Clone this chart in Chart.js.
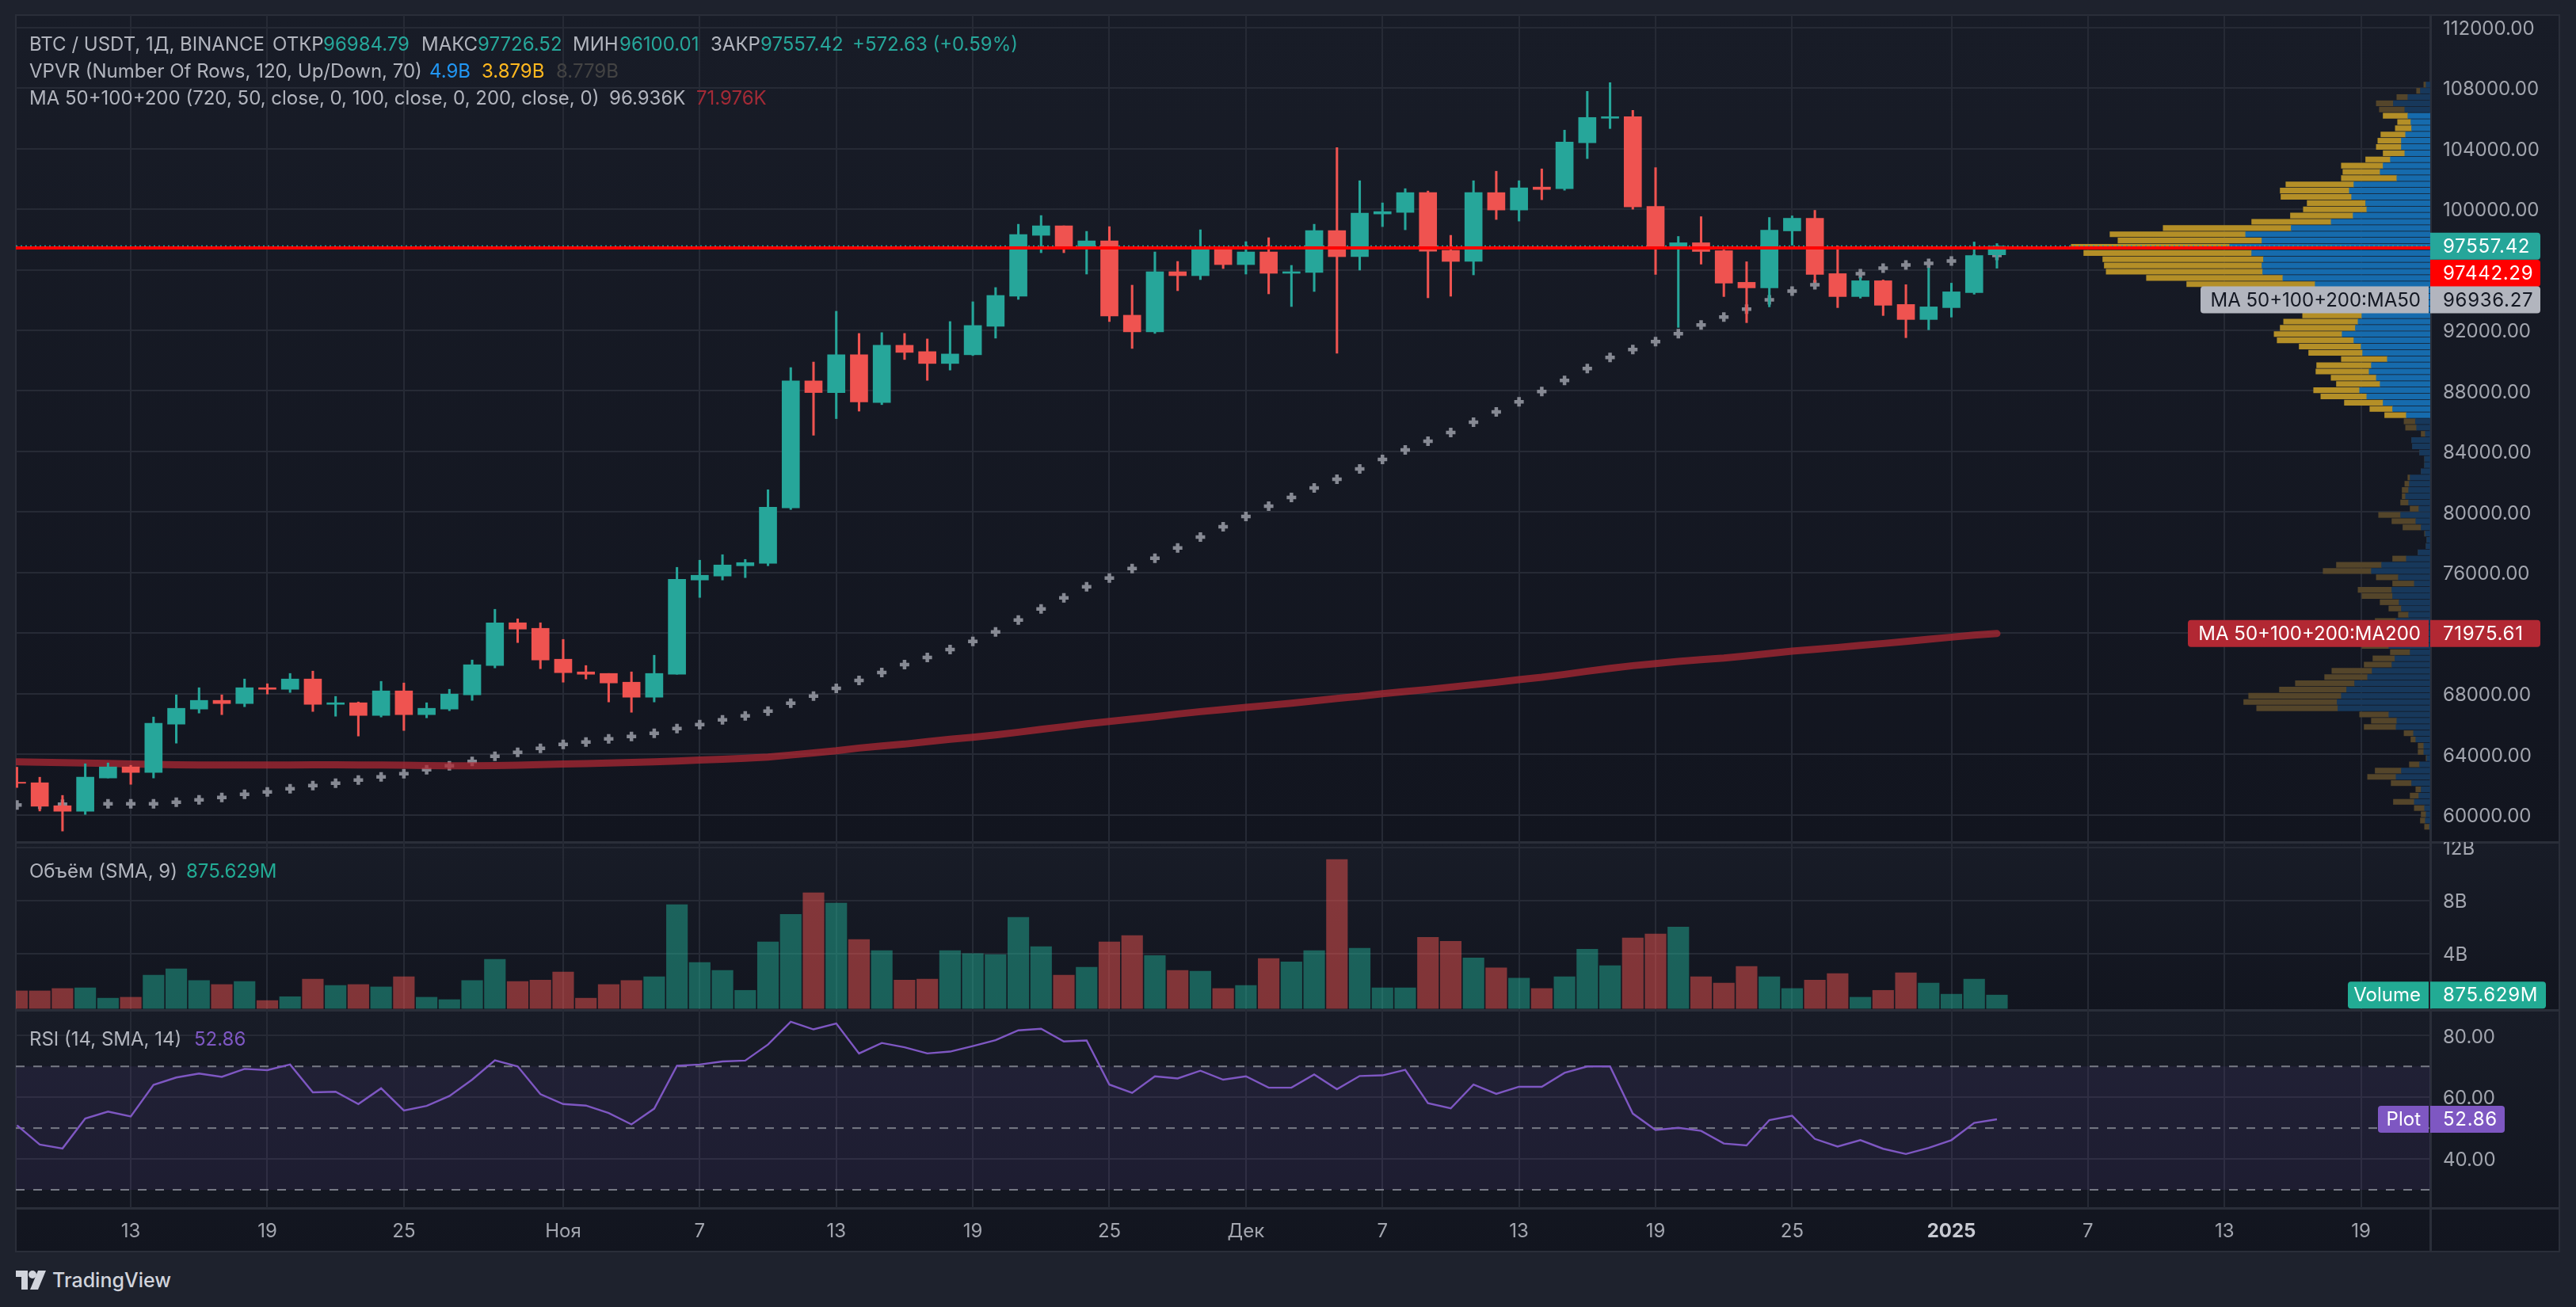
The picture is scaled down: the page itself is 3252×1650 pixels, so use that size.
<!DOCTYPE html>
<html>
<head>
<meta charset="utf-8">
<title>BTC / USDT</title>
<script src="https://cdn.jsdelivr.net/npm/chart.js@4"></script>
<style>
html, body { margin: 0; padding: 0; width: 3252px; height: 1650px; overflow: hidden; background: #1e222d; }
body { position: relative; font-family: Inter, sans-serif; font-size: 24px; color: #b2b5be; }
.bg, .sep, canvas, .txt, svg { position: absolute; }
.bg { left: 20px; width: 3211px; background: linear-gradient(#181c27, #12151f); }
.sep { background: #2a2e39; }
.txt { white-space: nowrap; line-height: 30px; }
.up { color: #26a69a; }
</style>
</head>
<body>
<div class="bg" style="top:19px;height:1044px"></div>
<div class="bg" style="top:1063px;height:212px"></div>
<div class="bg" style="top:1275px;height:305px"></div>
<div class="sep" style="left:19px;top:18px;width:3213px;height:2px"></div>
<div class="sep" style="left:19px;top:1579px;width:3213px;height:2px"></div>
<div class="sep" style="left:19px;top:18px;width:2px;height:1563px"></div>
<div class="sep" style="left:3230px;top:18px;width:2px;height:1563px"></div>
<div class="sep" style="left:3067px;top:18px;width:3px;height:1563px"></div>
<div class="sep" style="left:19px;top:1062px;width:3213px;height:3px"></div>
<div class="sep" style="left:19px;top:1274px;width:3213px;height:3px"></div>
<div class="sep" style="left:19px;top:1524px;width:3213px;height:3px"></div>
<canvas id="main" width="3211" height="1044" style="left:20px;top:19px"></canvas>
<canvas id="volume" width="3211" height="212" style="left:20px;top:1063px"></canvas>
<canvas id="rsi" width="3211" height="305" style="left:20px;top:1275px"></canvas>

<span class="txt" style="left:37px;top:41px">BTC / USDT, 1Д, BINANCE</span>
<span class="txt" style="left:344px;top:41px">ОТКР</span><span class="txt up" style="left:408px;top:41px">96984.79</span>
<span class="txt" style="left:532px;top:41px">МАКС</span><span class="txt up" style="left:603px;top:41px">97726.52</span>
<span class="txt" style="left:723px;top:41px">МИН</span><span class="txt up" style="left:782px;top:41px">96100.01</span>
<span class="txt" style="left:897px;top:41px">ЗАКР</span><span class="txt up" style="left:960px;top:41px">97557.42</span>
<span class="txt up" style="left:1076px;top:41px">+572.63 (+0.59%)</span>
<span class="txt" style="left:37px;top:75px">VPVR (Number Of Rows, 120, Up/Down, 70)</span>
<span class="txt" style="left:542px;top:75px;color:#2196f3">4.9B</span>
<span class="txt" style="left:608px;top:75px;color:#ffb81f">3.879B</span>
<span class="txt" style="left:702px;top:75px;color:#434343">8.779B</span>
<span class="txt" style="left:37px;top:109px">MA 50+100+200 (720, 50, close, 0, 100, close, 0, 200, close, 0)</span>
<span class="txt" style="left:769px;top:109px">96.936K</span>
<span class="txt" style="left:879px;top:109px;color:#a32a36">71.976K</span>
<span class="txt" style="left:37px;top:1085px">Объём (SMA, 9)</span>
<span class="txt" style="left:235px;top:1085px;color:#22ab94">875.629M</span>
<span class="txt" style="left:37px;top:1297px">RSI (14, SMA, 14)</span>
<span class="txt" style="left:245px;top:1297px;color:#7e57c2">52.86</span>

<svg style="left:20px;top:1603px" width="38" height="26" viewBox="0 0 38 26" fill="#d1d4dc">
<path d="M0 1h15v24H7V9H0z"/><circle cx="21" cy="6" r="5"/><path d="M28 1h10l-10 24H18z"/>
</svg>
<span class="txt" style="left:66px;top:1601px;font-size:25px;font-weight:500;color:#d1d4dc">TradingView</span>

<script>
// day numbers, 0 = 13 Oct 2024
const days = [-5,-4,-3,-2,-1,0,1,2,3,4,5,6,7,8,9,10,11,12,13,14,15,16,17,18,19,20,21,22,23,24,25,26,27,28,29,30,31,32,33,34,35,36,37,38,39,40,41,42,43,44,45,46,47,48,49,50,51,52,53,54,55,56,57,58,59,60,61,62,63,64,65,66,67,68,69,70,71,72,73,74,75,76,77,78,79,80,81,82];

const opens = [62161,62126,60610,60244,62440,63172,62806,65996,66990,67565,67355,68401,68297,68977,67303,67408,66571,68192,66623,66990,67930,69865,72689,72323,70284,69447,69342,68767,67774,69290,75513,75774,76454,76611,80271,88660,87890,90382,87234,91012,90594,89811,90385,92265,94250,98272,98899,97558,97906,92997,91900,95869,95608,97332,96339,97175,95765,95817,98585,96862,99682,99786,101092,97279,96548,101092,99943,101458,101354,104383,106002,106106,100183,97484,97780,97258,95169,94803,98564,99399,95743,94228,95273,93706,92714,93497,94490,96984.79];
const highs = [63155,62492,61290,63381,63434,63277,66467,67930,68401,67930,68977,68663,69342,69499,67826,67460,68820,68715,67408,68297,70232,73578,72950,72689,71591,69865,69342,69447,70545,76349,76820,77186,76872,81474,89539,89905,93258,91792,91848,91795,91430,92579,93885,94825,99003,99578,98899,98533,98846,94981,97175,96548,98638,97419,97854,98115,96287,99003,104069,101876,100413,101354,101197,98272,101876,102503,101876,102659,105218,107778,108352,106524,102742,98198,99504,97310,96527,99451,99556,99922,97571,95482,95325,95012,96109,95116,97832,97726.52];
const lows = [61813,60261,58937,60035,62440,62022,62440,64741,66728,66623,67146,67983,68088,66833,66519,65211,66467,65578,66414,66885,67565,69708,71382,69656,68767,68977,67460,66780,67460,69290,74363,75513,75670,76454,80167,85072,86168,86663,87094,90072,88696,89375,90333,91482,94041,97123,97123,95713,92579,90803,91795,94616,95347,96078,95713,94407,93571,94564,90490,95974,98846,98638,94146,94250,95660,99317,99212,100621,101249,103338,105322,99996,95691,92191,96370,94228,92505,93549,97623,95169,93497,94124,92975,91513,92035,92871,94385,96100.01];
const closes = [62092,60575,60244,62492,63172,62806,66048,67042,67565,67355,68401,68297,68977,67303,67408,66571,68192,66623,67042,67983,69918,72689,72271,70232,69395,69290,68715,67774,69342,75565,75826,76506,76663,80323,88660,87890,90382,87267,91012,90542,89811,90437,92318,94302,98324,98899,97541,97906,92944,91900,95869,95608,97419,96339,97175,95765,95869,98585,96862,99734,99839,101092,97227,96548,101092,99943,101406,101301,104435,106054,106106,100152,97500,97780,97206,95116,94803,98616,99399,95691,94228,95273,93654,92714,93549,94542,96944,97557.42];

const ma50 = [60662,60697,60715,60715,60732,60732,60732,60837,60994,61150,61360,61516,61726,61935,62092,62301,62510,62719,62981,63242,63538,63869,64131,64392,64654,64811,65020,65177,65386,65700,65961,66275,66536,66850,67373,67844,68366,68889,69403,69926,70397,70920,71460,72087,72871,73602,74333,75064,75639,76265,76944,77624,78355,79034,79713,80392,80966,81593,82167,82846,83473,84100,84674,85249,85928,86607,87286,87965,88696,89480,90211,90733,91251,91774,92348,92870,93393,94020,94594,95012,95350,95743,96109,96318,96422,96579,96700,96936];
const ma200 = [63503,63480,63455,63430,63400,63370,63335,63310,63300,63294,63296,63298,63305,63310,63312,63305,63295,63280,63265,63250,63242,63260,63285,63320,63364,63395,63430,63465,63510,63556,63620,63680,63745,63825,63960,64100,64240,64418,64558,64680,64837,64994,65133,65290,65464,65656,65830,66022,66179,66336,66493,66667,66824,66963,67103,67242,67381,67538,67695,67835,68009,68148,68288,68445,68602,68758,68933,69090,69281,69490,69682,69856,69996,70135,70257,70362,70501,70658,70815,70937,71059,71199,71321,71460,71600,71739,71878,71976];

// billions
const volumes = [1.19,1.19,1.37,1.42,0.64,0.71,2.38,2.86,1.97,1.67,1.90,0.46,0.75,2.08,1.60,1.67,1.49,2.26,0.71,0.53,1.97,3.57,1.90,2.01,2.61,0.64,1.67,1.97,2.26,7.70,3.34,2.74,1.23,4.89,6.97,8.59,7.82,5.07,4.23,2.01,2.08,4.23,4.00,3.93,6.74,4.53,2.38,2.97,4.89,5.37,3.86,2.74,2.67,1.37,1.60,3.63,3.38,4.23,11.11,4.41,1.42,1.42,5.23,4.94,3.68,2.93,2.15,1.37,2.26,4.34,3.09,5.19,5.49,6.01,2.26,1.78,3.04,2.26,1.37,2.01,2.49,0.71,1.23,2.56,1.78,0.94,2.08,0.876];

const rsiValues = [50.9,44.65,43.4,53.1,55.35,53.8,64,66.4,67.7,66.6,69.2,68.8,70.6,61.6,61.8,57.8,62.9,55.7,57.2,60.4,65.7,72,70,61,57.8,57.3,54.9,51.2,56.3,70.2,70.6,71.6,71.9,77.1,84.5,82,83.9,74.2,77.6,76.2,74.2,74.8,76.6,78.5,81.7,82.2,78.1,78.4,64.1,61.4,66.8,66.1,68.6,65.7,66.8,63.1,63.1,67.4,62.6,66.9,67.1,68.9,58.1,56.4,64.1,61.1,63.4,63.4,67.9,70,70,54.7,49.4,50.1,49.1,45,44.4,52.6,54,46.5,44,46.1,43.3,41.6,43.6,46.1,51.7,52.86];
const rsiLevels = [70, 50, 30];

// volume profile rows, top row first
const vpvrUp = [11,26,59,97,67,59,51,49,65,76,76,67,105,124,132,88,201,213,207,170,167,203,261,366,486,443,528,470,439,443,441,388,303,255,225,205,185,180,190,197,232,201,182,178,113,155,161,142,132,186,167,124,99,63,39,36,13,49,47,28,15,15,24,53,55,57,65,57,30,78,38,24,13,9,11,32,63,128,155,84,42,101,99,82,76,57,90,75,55,85,109,53,93,101,153,165,199,220,234,245,243,109,88,90,44,38,17,17,9,28,76,90,49,24,30,42,15,11,13,2];
const vpvrDown = [6,10,29,45,67,65,35,43,65,62,66,57,65,110,98,146,179,182,186,154,167,165,209,337,357,379,417,442,423,415,412,359,338,290,260,220,200,156,196,198,179,202,163,142,121,144,140,119,115,121,121,102,60,57,30,29,11,0,0,0,0,0,0,6,12,17,9,21,23,58,63,48,2,0,0,0,36,119,127,58,57,89,81,50,33,27,55,50,40,40,71,52,58,73,106,113,156,177,244,246,214,77,67,84,25,13,15,15,2,27,69,75,54,14,23,55,27,13,13,13];
const vpvrTop = 108224;
const vpvrRowSize = 411.8;
const valueAreaRows = [5, 53];

const lastPrice = [97557.42];
const redLevel = [97442.29];

const priceTicks = [60000,64000,68000,72000,76000,80000,84000,88000,92000,96000,100000,104000,108000,112000];
const volumeTicks = [4, 8, 12];
const rsiTicks = [40, 60, 80];
const xTickDays = [0,6,12,19,25,31,37,43,49,55,61,67,73,80,86,92,98];
const xTickLabels = ['13','19','25','Ноя','7','13','19','25','Дек','7','13','19','25','2025','7','13','19'];

const green = '#26a69a';
const red = '#ef5350';
const gridColor = '#262a35';
const tickColor = '#a3a6af';
const font = 'Inter';
const xMin = -5.05;
const xMax = 101.04;
const axisWidth = 163;

let isUp = (i) => closes[i] >= opens[i];
let isYear = (c) => c.tick && c.tick.label === '2025';
let pts = (values) => values.map((v, i) => ({x: days[i], y: v}));
let flat = (v) => [{x: xMin, y: v}, {x: xMax, y: v}];

let bars = (data, width, color, order) => ({
    type: 'bar',
    data: data,
    backgroundColor: color,
    barThickness: width,
    barPercentage: 1,
    categoryPercentage: 1,
    grouped: false,
    borderWidth: 0,
    order: order
});

let xScale = (showLabels) => ({
    type: 'linear',
    min: xMin,
    max: xMax,
    offset: false,
    grid: {color: gridColor, lineWidth: 2, offset: false, drawTicks: false},
    border: {display: false},
    afterBuildTicks: (s) => { s.ticks = xTickDays.map((v) => ({value: v})); },
    afterFit: (s) => {
        s.paddingLeft = 0;
        s.paddingRight = 0;
        s.height = showLabels ? 55 : 0;
    },
    ticks: {
        display: showLabels,
        autoSkip: false,
        maxRotation: 0,
        padding: 15,
        color: (c) => isYear(c) ? '#c8cad2' : tickColor,
        font: (c) => ({family: font, size: 24, weight: isYear(c) ? 'bold' : 'normal'}),
        callback: (v, i) => xTickLabels[i]
    }
});

let yScale = (min, max, values, format) => ({
    type: 'linear',
    position: 'right',
    min: min,
    max: max,
    offset: false,
    grid: {color: gridColor, lineWidth: 2, offset: false, drawTicks: false},
    border: {display: false},
    afterBuildTicks: (s) => { s.ticks = values.map((v) => ({value: v})); },
    afterFit: (s) => {
        s.width = axisWidth;
        s.paddingTop = 0;
        s.paddingBottom = 0;
    },
    ticks: {
        padding: 16,
        labelOffset: 2,
        autoSkip: false,
        color: tickColor,
        font: {family: font, size: 24},
        callback: format
    }
});

// value tags on the price axis, with the series name in front of some of them
let tagPlugin = (tags) => ({
    id: 'tags',
    afterDraw: (chart) => {
        let ctx = chart.ctx;
        let right = chart.chartArea.right;
        ctx.save();
        ctx.font = '24px ' + font;
        ctx.textBaseline = 'middle';
        tags.forEach((t) => {
            let y = chart.scales.y.getPixelForValue(t.value) + (t.shift || 0);
            ctx.fillStyle = t.bg;
            ctx.beginPath();
            ctx.roundRect(right, y - 17, t.width, 34, [0, 4, 4, 0]);
            ctx.fill();
            ctx.fillStyle = t.fg;
            ctx.textAlign = 'left';
            ctx.letterSpacing = '0.7px';
            ctx.fillText(t.text, right + 16, y + 1);
            ctx.letterSpacing = '0px';
            if (t.name) {
                ctx.fillStyle = t.bg;
                ctx.beginPath();
                ctx.roundRect(right - 2 - t.nameWidth, y - 17, t.nameWidth, 34, [4, 0, 0, 4]);
                ctx.fill();
                ctx.fillStyle = t.fg;
                ctx.textAlign = 'right';
                ctx.fillText(t.name, right - 12, y + 1);
            }
        });
        ctx.restore();
    }
});

let createChart = (id, datasets, scales, tags) => {
    let ctx = document.querySelector(id).getContext('2d');
    return new Chart(ctx, {
        type: 'bar',
        data: {datasets: datasets},
        options: {
            responsive: false,
            animation: false,
            events: [],
            layout: {padding: 0, autoPadding: false},
            plugins: {legend: {display: false}, tooltip: {enabled: false}},
            scales: scales
        },
        plugins: [tagPlugin(tags)]
    });
}

let rowColor = (bright, dim) => vpvrUp.map((v, i) => i >= valueAreaRows[0] && i <= valueAreaRows[1] ? bright : dim);
let rowPrice = (i) => vpvrTop - i * vpvrRowSize;

let profileUp = Object.assign(
    bars(vpvrUp.map((v, i) => ({x: [0, v], y: rowPrice(i)})), 6.5, rowColor('#166bad', '#17385b'), 9),
    {indexAxis: 'y', xAxisID: 'xv', yAxisID: 'y'}
);
let profileDown = Object.assign(
    bars(vpvrUp.map((v, i) => ({x: [v, v + vpvrDown[i]], y: rowPrice(i)})), 6.5, rowColor('#b48f27', '#54452a'), 9),
    {indexAxis: 'y', xAxisID: 'xv', yAxisID: 'y'}
);

let candleColors = days.map((d, i) => isUp(i) ? green : red);

createChart('#main', [
    profileUp,
    profileDown,
    {type: 'line', data: pts(ma50), showLine: false, pointStyle: 'cross', pointRadius: 6, pointBorderWidth: 4.5, pointBorderColor: '#868993', order: 8},
    {type: 'line', data: pts(ma200), borderColor: 'rgba(178,40,51,0.72)', borderWidth: 9, borderCapStyle: 'round', pointRadius: 0, order: 7},
    {type: 'line', data: flat(lastPrice[0]), borderColor: green, borderWidth: 2, borderDash: [2, 4], pointRadius: 0, order: 6},
    bars(days.map((d, i) => ({x: d, y: [lows[i], highs[i]]})), 2.4, candleColors, 5),
    bars(days.map((d, i) => ({x: d, y: [opens[i], closes[i]]})), 22, candleColors, 4),
    {type: 'line', data: flat(redLevel[0]), borderColor: '#ff0000', borderWidth: 4, pointRadius: 0, order: 1}
], {
    x: xScale(false),
    xv: {type: 'linear', display: false, reverse: true, min: 0, max: 6355, offset: false},
    y: yScale(58213, 112816, priceTicks, (v) => v.toFixed(2))
}, [
    {value: 97557.42, text: '97557.42', bg: green, fg: '#ffffff', width: 139},
    {value: 97442.29, text: '97442.29', bg: '#ff0000', fg: '#ffffff', width: 139, shift: 32},
    {value: 96936.27, text: '96936.27', bg: '#b2b5be', fg: '#131722', width: 139, name: 'MA 50+100+200:MA50', nameWidth: 288, shift: 56},
    {value: 71975.61, text: '71975.61', bg: '#b22833', fg: '#ffffff', width: 139, name: 'MA 50+100+200:MA200', nameWidth: 304}
]);

createChart('#volume', [
    bars(days.map((d, i) => ({x: d, y: [-0.137, volumes[i]]})), 26.5, days.map((d, i) => isUp(i) ? 'rgba(34,171,148,0.5)' : 'rgba(239,83,80,0.5)'), 1)
], {
    x: xScale(false),
    y: yScale(-0.25, 12.43, volumeTicks, (v) => v + 'B')
}, [
    {value: 0.875629, text: '875.629M', bg: '#22ab94', fg: '#ffffff', width: 146, name: 'Volume', nameWidth: 102}
]);

let rsiDash = (v) => ({type: 'line', data: flat(v), borderColor: '#787b86', borderWidth: 2, borderDash: [11, 11], pointRadius: 0, order: 3});

createChart('#rsi', [
    {type: 'line', data: flat(rsiLevels[0]), borderWidth: 0, pointRadius: 0, fill: {value: rsiLevels[2]}, backgroundColor: 'rgba(126,87,194,0.1)', order: 4},
    rsiDash(rsiLevels[0]),
    rsiDash(rsiLevels[1]),
    rsiDash(rsiLevels[2]),
    {type: 'line', data: pts(rsiValues), borderColor: '#7e57c2', borderWidth: 2.4, pointRadius: 0, order: 1}
], {
    x: xScale(true),
    y: yScale(24.1, 88.3, rsiTicks, (v) => v.toFixed(2))
}, [
    {value: 52.86, text: '52.86', bg: '#7e57c2', fg: '#ffffff', width: 94, name: 'Plot', nameWidth: 64}
]);
</script>
</body>
</html>
